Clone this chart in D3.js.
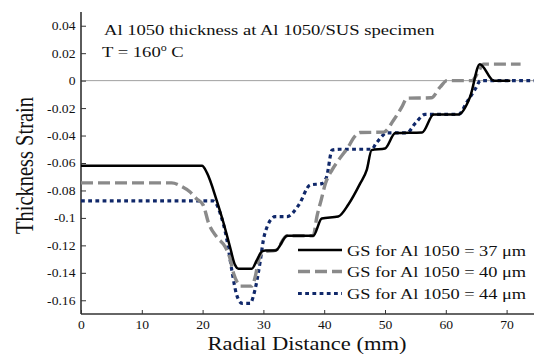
<!DOCTYPE html>
<html>
<head>
<meta charset="utf-8">
<script src="https://cdn.jsdelivr.net/npm/d3@7"></script>
<style>
  body { margin: 0; background: #fff; }
  svg { display: block; font-family: "Liberation Serif", "Times New Roman", serif; }
</style>
</head>
<body>
<svg id="chart"></svg>
<script>
// radial distance (mm) and thickness strain for each grain size
const x37 = [0, 19.9, 20.7, 22.3, 23.4, 24.5, 25.3, 25.9, 28.1, 28.9, 29.7, 30.3, 32, 33.9, 38.2, 39.6, 42.3, 44, 45.9, 47, 47.8, 50, 51.7, 56.1, 58, 62.1, 64, 65.6, 67.9, 70.6];
const y37 = [-0.062, -0.062, -0.067, -0.087, -0.103, -0.121, -0.134, -0.137, -0.137, -0.131, -0.1247, -0.1237, -0.1237, -0.113, -0.113, -0.1004, -0.099, -0.09, -0.075, -0.065, -0.0506, -0.0495, -0.0382, -0.0377, -0.0246, -0.0246, -0.0118, 0.012, 0, 0];

const x40 = [0, 14.9, 16.5, 17.9, 19, 20.1, 21, 22.3, 23.7, 24.4, 25.1, 25.7, 26.2, 28.1, 28.7, 29.2, 30, 32, 33.9, 38.2, 38.8, 39.5, 40.2, 41.3, 42.5, 44, 44.8, 45.9, 49.8, 51.4, 52.8, 53.6, 57.6, 59.1, 60.2, 64.3, 65.3, 66.2, 72.3];
const y40 = [-0.0745, -0.0745, -0.077, -0.081, -0.086, -0.0907, -0.104, -0.1138, -0.121, -0.128, -0.1405, -0.147, -0.1497, -0.1497, -0.142, -0.131, -0.1247, -0.1237, -0.113, -0.113, -0.099, -0.087, -0.075, -0.065, -0.057, -0.048, -0.042, -0.0378, -0.0375, -0.0288, -0.019, -0.0128, -0.0125, -0.0045, 0, 0, 0.006, 0.012, 0.012];

const x44 = [0, 21.7, 22.3, 22.9, 24, 24.8, 25.6, 26.5, 27.8, 28.6, 29.5, 30, 30.6, 31.4, 31.9, 33.9, 35.8, 37.7, 39.6, 40.4, 41.3, 42.6, 47.8, 48.5, 49.2, 50.3, 53.6, 55, 56.6, 62.1, 63.5, 64.9, 65.7, 75];
const y44 = [-0.0876, -0.0876, -0.09, -0.0968, -0.116, -0.138, -0.156, -0.1623, -0.1623, -0.1526, -0.131, -0.116, -0.1066, -0.1004, -0.099, -0.099, -0.0907, -0.076, -0.075, -0.07, -0.0506, -0.05, -0.05, -0.046, -0.042, -0.038, -0.038, -0.031, -0.0246, -0.0246, -0.0154, -0.0057, 0, 0];

const seriesNames = ['GS for Al 1050 = 37 \u03bcm', 'GS for Al 1050 = 40 \u03bcm', 'GS for Al 1050 = 44 \u03bcm'];
const xTicks = [0, 10, 20, 30, 40, 50, 60, 70];
const yTicks = [0.04, 0.02, 0, -0.02, -0.04, -0.06, -0.08, -0.1, -0.12, -0.14, -0.16];

const width = 534, height = 354;
const margin = { top: 12, left: 81, bottom: 40 };
const SX = 1.2;  // the source figure is stretched sideways
const TSX = 1.1; // tick labels a bit less

const svg = d3.select('#chart').attr('width', width).attr('height', height);

const x = d3.scaleLinear().domain([0, 75]).range([margin.left, 537]);
const y = d3.scaleLinear().domain([-0.17, 0.05]).range([height - margin.bottom, margin.top]);

const styles = [
  { stroke: '#000', width: 2.5, dash: null },
  { stroke: '#8a8a8a', width: 3.4, dash: '12,5' },
  { stroke: '#10286a', width: 3.2, dash: '3.8,3.4' }
];

// zero line
svg.append('line')
  .attr('x1', x(0)).attr('x2', width)
  .attr('y1', y(0)).attr('y2', y(0))
  .attr('stroke', '#a0a0a0').attr('stroke-width', 1);

// axes
const yAxis = svg.append('g')
  .attr('transform', `translate(${margin.left},0)`)
  .call(d3.axisLeft(y).tickValues(yTicks).tickSizeInner(-5).tickSizeOuter(0).tickPadding(5)
    .tickFormat(d => d === 0 ? '0' : String(+d.toFixed(2))));
yAxis.select('.domain').attr('d', `M0,${y(-0.17)}V${margin.top}`);

const xAxis = svg.append('g')
  .attr('transform', `translate(0,${height - margin.bottom})`)
  .call(d3.axisBottom(x).tickValues(xTicks).tickSizeInner(-4).tickSizeOuter(0).tickPadding(6));
xAxis.select('.domain').attr('d', `M${margin.left},0H${width}`);

[yAxis, xAxis].forEach(g => {
  g.select('.domain').attr('stroke', '#333').attr('stroke-width', 1.6);
  g.selectAll('.tick line').attr('stroke', '#333').attr('stroke-width', 1);
  g.selectAll('.tick text')
    .attr('font-family', '"Liberation Serif", serif')
    .attr('font-size', 12.4)
    .attr('fill', '#111')
    .attr('transform', `scale(${TSX},1)`);
});
yAxis.selectAll('.tick text').attr('x', -5.5 / TSX);

// curves
const line = d3.line().x(d => x(d[0])).y(d => y(d[1])).curve(d3.curveMonotoneX);
const data = [d3.zip(x37, y37), d3.zip(x40, y40), d3.zip(x44, y44)];

[2, 1, 0].forEach(i => {
  svg.append('path')
    .datum(data[i])
    .attr('d', line)
    .attr('fill', 'none')
    .attr('stroke', styles[i].stroke)
    .attr('stroke-width', styles[i].width)
    .attr('stroke-dasharray', styles[i].dash)
    .attr('stroke-linejoin', 'round');
});

// title text
const title = svg.append('g').attr('transform', `translate(104,35) scale(${SX},1)`);
title.append('text').attr('font-size', 15.5).attr('fill', '#111')
  .text('Al 1050 thickness at Al 1050/SUS specimen');

const temp = svg.append('g').attr('transform', `translate(102,57) scale(${SX},1)`)
  .append('text').attr('font-size', 15.5).attr('fill', '#111');
temp.append('tspan').text('T = 160');
temp.append('tspan').attr('font-size', 10).attr('dy', -6).text('o');
temp.append('tspan').attr('dy', 6).text(' C');

// legend
const legend = svg.append('g');
seriesNames.forEach((name, i) => {
  const ly = [250, 271.5, 293.5][i];
  legend.append('line')
    .attr('x1', 298).attr('x2', 342)
    .attr('y1', ly).attr('y2', ly)
    .attr('stroke', styles[i].stroke)
    .attr('stroke-width', styles[i].width)
    .attr('stroke-dasharray', styles[i].dash);
  legend.append('g').attr('transform', `translate(347,${ly + 5.5}) scale(${SX},1)`)
    .append('text').attr('font-size', 15.3).attr('fill', '#111').text(name);
});

// axis labels
svg.append('g').attr('transform', `translate(307,350) scale(${SX},1)`)
  .append('text').attr('text-anchor', 'middle').attr('font-size', 18.8).attr('fill', '#111')
  .text('Radial Distance (mm)');

svg.append('g').attr('transform', `translate(33,165.5) scale(${SX},1) rotate(-90)`)
  .append('text').attr('text-anchor', 'middle').attr('font-size', 20.5).attr('fill', '#111')
  .text('Thickness Strain');
</script>
</body>
</html>
